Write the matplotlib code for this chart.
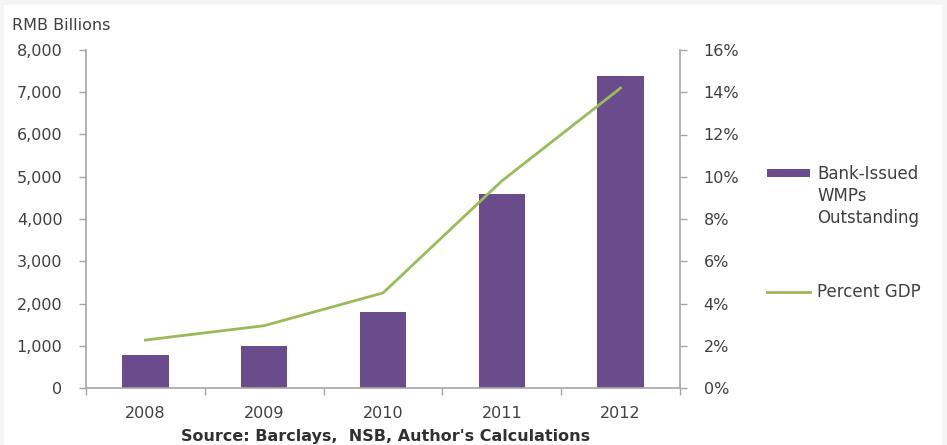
import numpy as np
import matplotlib
matplotlib.use('Agg')
import matplotlib.pyplot as plt
from matplotlib.patches import Rectangle
from matplotlib.lines import Line2D
from matplotlib.ticker import FuncFormatter, FixedLocator

# data
years = ['2008', '2009', '2010', '2011', '2012']
wmp_outstanding = [780, 1000, 1790, 4590, 7380]   # RMB billions
percent_gdp = [2.27, 2.95, 4.5, 9.8, 14.2]        # %

bar_color = '#6A4C8C'
line_color = '#9BBB59'
axis_color = '#A6A6A6'
text_color = '#404040'

plt.rcParams['font.family'] = ['DejaVu Sans']

fig = plt.figure(figsize=(9.47, 4.45), dpi=100, facecolor='#F5F5F5')
# white panel inside the light grey border
fig.add_artist(Rectangle((4 / 947, 0), (942 - 4) / 947, 1 - 5 / 445,
                         transform=fig.transFigure, facecolor='white',
                         edgecolor='none', zorder=-5))

ax = fig.add_axes([86 / 947, 1 - 388 / 445, (680 - 86) / 947, (388 - 50) / 445])
ax.patch.set_alpha(0)
x = np.arange(len(years))
ax.bar(x, wmp_outstanding, width=0.39, color=bar_color, zorder=2)
ax.set_xlim(-0.5, len(years) - 0.5)
ax.set_ylim(0, 8000)
ax.set_yticks(range(0, 8001, 1000))
ax.yaxis.set_major_formatter(FuncFormatter(lambda v, p: '{:,.0f}'.format(v)))
ax.set_xticks(x)
ax.set_xticklabels(years)
ax.xaxis.set_minor_locator(FixedLocator(np.arange(-0.5, len(years), 1.0)))
ax.tick_params(axis='x', which='major', length=0, pad=13, labelsize=11.5, labelcolor=text_color)
ax.tick_params(axis='x', which='minor', length=5, color=axis_color, width=1)
ax.tick_params(axis='y', length=5, color=axis_color, width=1, pad=12,
               labelsize=11.5, labelcolor=text_color)
for s in ['top', 'right']:
    ax.spines[s].set_visible(False)
for s in ['left', 'bottom']:
    ax.spines[s].set_color(axis_color)
    ax.spines[s].set_linewidth(1.2)

ax2 = ax.twinx()
ax2.plot(x, percent_gdp, color=line_color, lw=2, zorder=3)
ax2.set_ylim(0, 16)
ax2.set_yticks(range(0, 17, 2))
ax2.yaxis.set_major_formatter(FuncFormatter(lambda v, p: '%d%%' % v))
ax2.tick_params(axis='y', length=5, color=axis_color, width=1, pad=12,
                labelsize=11.5, labelcolor=text_color)
for s in ['top', 'left', 'bottom']:
    ax2.spines[s].set_visible(False)
ax2.spines['right'].set_color(axis_color)
ax2.spines['right'].set_linewidth(1.2)

# legend drawn by hand to match the stacked layout
fig.add_artist(Rectangle((767 / 947, 1 - 177 / 445), 43 / 947, 8 / 445,
                         transform=fig.transFigure, facecolor=bar_color,
                         edgecolor='none'))
fig.text(817 / 947, 1 - 165 / 445, 'Bank-Issued\nWMPs\nOutstanding', ha='left', va='top',
         fontsize=12, color=text_color, linespacing=1.3)
fig.add_artist(Line2D([767 / 947, 810 / 947], [1 - 292 / 445, 1 - 292 / 445],
                      transform=fig.transFigure, color=line_color, lw=2))
fig.text(817 / 947, 1 - 292 / 445, 'Percent GDP', ha='left', va='center',
         fontsize=12, color=text_color)

fig.text(12 / 947, 1 - 25 / 445, 'RMB Billions', ha='left', va='center',
         fontsize=11.5, color=text_color)
fig.text(386 / 947, 1 - 436 / 445, "Source: Barclays,  NSB, Author's Calculations",
         ha='center', va='center', fontsize=11.5, fontweight='bold', color='#303030')

fig.savefig('out.png', dpi=100, facecolor=fig.get_facecolor())
